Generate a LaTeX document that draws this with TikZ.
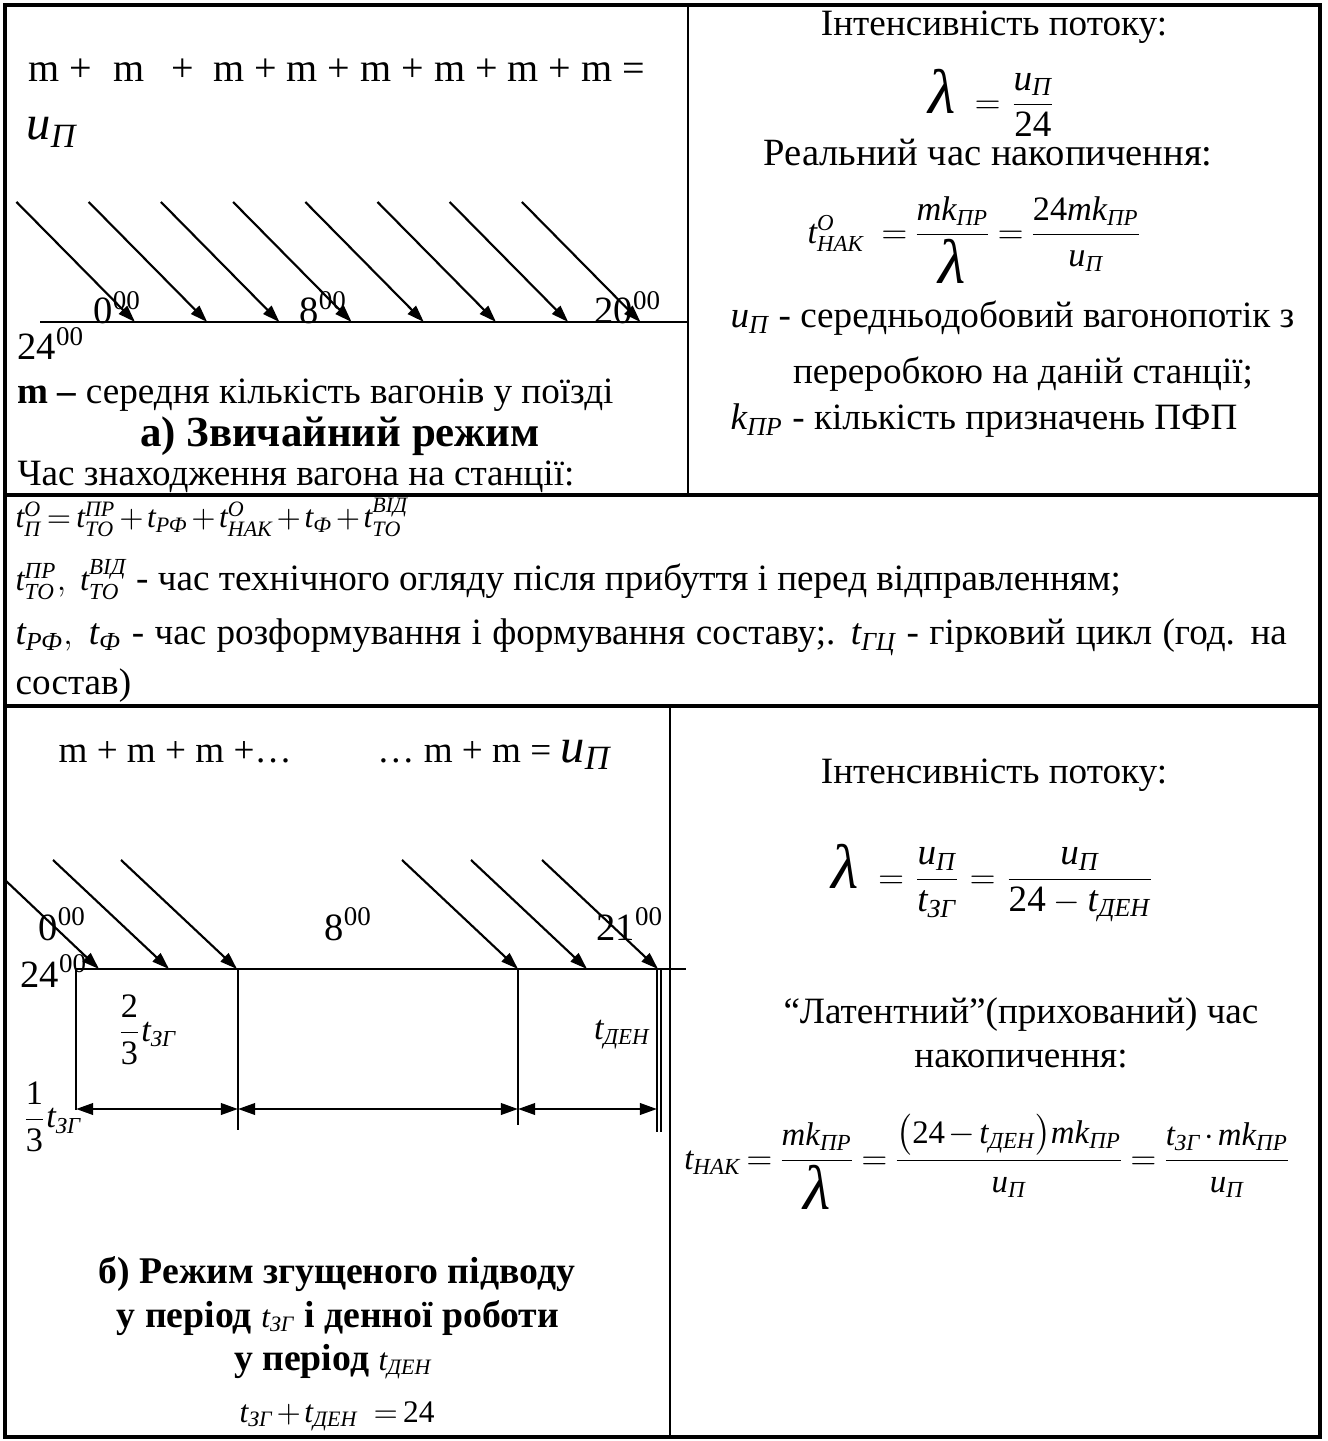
\documentclass[tikz,border=0pt]{standalone}
\usepackage{fontspec}
\usepackage{amsmath}
\setmainfont{Liberation Serif}
\usetikzlibrary{arrows.meta}
\tikzstyle{cellborder}=[line width=1.1pt]
\tikzstyle{divider}=[line width=0.6pt]
\tikzstyle{every node}=[inner sep=0pt, font=\fontsize{13}{15}\selectfont]
\tikzstyle{headtext}=[font=\fontsize{15}{17}\selectfont\bfseries]
\tikzstyle{subhead}=[font=\fontsize{13.2}{15}\selectfont\bfseries]
\tikzstyle{sumtext}=[font=\fontsize{14}{16}\selectfont]
\tikzstyle{timelabel}=[font=\fontsize{13.5}{15}\selectfont]
\tikzstyle{formula}=[font=\fontsize{12}{14}\selectfont,
  execute at begin node={\medmuskip=2mu\thickmuskip=3mu}]
\tikzstyle{train}=[line width=0.75pt, ->]
\tikzstyle{axisline}=[line width=0.8pt]
\tikzstyle{tick}=[line width=0.6pt]
\tikzstyle{dimline}=[line width=0.9pt, <->]
\newcommand{\ti}[1]{\textit{#1}}
\newcommand{\uP}{\ensuremath{\ti{u}_{\ti{П}}}}
\newcommand{\lam}{\mbox{\fontsize{22}{22}\selectfont\textit{λ}}}
\newcommand{\mkpr}{\ensuremath{\ti{mk}_{\ti{ПР}}}}
\newcommand{\tzg}{\ensuremath{\ti{t}_{\ti{ЗГ}}}}
\newcommand{\tden}{\ensuremath{\ti{t}_{\ti{ДЕН}}}}

\begin{document}
\begin{tikzpicture}[x=0.35pt, y=-0.35pt, >={Triangle[length=6pt,width=4pt]}]
\useasboundingbox (0,0) rectangle (1327,1441);
% table
\draw[cellborder] (5,5) rectangle (1320,1437);
\draw[cellborder] (5,495) -- (1320,495);
\draw[cellborder] (5,706) -- (1320,706);
\draw[divider] (688,5) -- (688,495);
\draw[divider] (670,706) -- (670,1437);

% a) usual mode
\node[sumtext, anchor=base west] (sum1) at (28,82) {m +\hspace{4pt} m \hspace{6pt}+\hspace{3pt} m + m + m + m + m + m =};
\node[anchor=base west] (uflow1) at (26,140) {\fontsize{17}{20}\selectfont\uP};
\foreach \k in {0,...,7}
  \draw[train] ({16.5+72.2*\k},202) -- ({135+72.2*\k},322);
\draw[axisline] (40,322) -- (688,322);
\node[timelabel, anchor=base west] (h0a) at (93,324) {0\textsuperscript{00}};
\node[timelabel, anchor=base west] (h8a) at (299,324) {8\textsuperscript{00}};
\node[timelabel, anchor=base west] (h20a) at (594,324) {20\textsuperscript{00}};
\node[timelabel, anchor=base west] (h24a) at (17,360) {24\textsuperscript{00}};
\node[anchor=base west] (mdef) at (17,404) {\textbf{m –} середня кількість вагонів у поїзді};
\node[headtext, anchor=base] (modea) at (340,447) {а) Звичайний режим};
\node[anchor=base west] (stay) at (17,486) {Час знаходження вагона на станції:};

\node[anchor=base] (int1) at (994,36) {Інтенсивність потоку:};
\node (lam1) at (992,103) {$\lam\;=\dfrac{\uP}{\textup{24}}$};
\node[anchor=base, font=\fontsize{13.5}{15}\selectfont] (real1) at (988,166) {Реальний час накопичення:};
\node[formula] (nak1) at (975,240) {$\ti{t}^{\ti{O}}_{\ti{НАК}}\;\;=\dfrac{\mkpr}{\lam}=\dfrac{\textup{24}\mkpr}{\uP}$};
\node[anchor=base west] (uflow2) at (730,328) {\uP\ - середньодобовий вагонопотік з};
\node[anchor=base] (pererob) at (1023,384) {переробкою на даній станції;};
\node[anchor=base west] (kpr) at (730,430) {$\ti{k}_{\ti{ПР}}$ - кількість призначень ПФП};

% station time
\node[formula, font=\fontsize{11}{13}\selectfont, anchor=base west] (tstay) at (15,528) {$\ti{t}^{\ti{O}}_{\ti{П}}=\ti{t}^{\ti{ПР}}_{\ti{ТО}}+\ti{t}_{\ti{РФ}}+\ti{t}^{\ti{O}}_{\ti{НАК}}+\ti{t}_{\ti{Ф}}+\ti{t}^{\ti{ВІД}}_{\ti{ТО}}$};
\node[anchor=base west] (tto) at (15,591) {{\fontsize{11.5}{13}\selectfont$\ti{t}^{\ti{ПР}}_{\ti{ТО}},\ \ti{t}^{\ti{ВІД}}_{\ti{ТО}}$}\ - час технічного огляду після прибуття і перед відправленням;};
\node[anchor=base west] (trf) at (15,645) {\makebox[445pt][s]{$\ti{t}_{\ti{РФ}},\ \ti{t}_{\ti{Ф}}$ - час розформування і формування составу;. $\ti{t}_{\ti{ГЦ}}$ - гірковий цикл (год. на}};
\node[anchor=base west] (sostav) at (15,694) {состав)};

% b) condensed arrival
\node[anchor=base west] (sum2) at (58,762) {m + m + m +…\hspace{30pt}… m + m = {\fontsize{17}{20}\selectfont\uP}};
\draw[train] (5,880) -- (99,969);
\foreach \sx in {53,121,402,471,542}
  \draw[train] (\sx,860) -- ({\sx+116},969);
\draw[axisline] (76,969) -- (686,969);
\node[timelabel, anchor=base west] (h0b) at (38,940) {0\textsuperscript{00}};
\node[timelabel, anchor=base west] (h8b) at (324,940) {8\textsuperscript{00}};
\node[timelabel, anchor=base west] (h21b) at (596,940) {21\textsuperscript{00}};
\node[timelabel, anchor=base west] (h24b) at (20,987) {24\textsuperscript{00}};
\coordinate (p0) at (76,969);
\coordinate (p1) at (238,969);
\coordinate (p2) at (518,969);
\coordinate (p3) at (657,969);
\draw[tick] (p0) -- ++(0,141);
\draw[tick] (p1) -- ++(0,161);
\draw[tick] (p2) -- ++(0,156);
\draw[tick] (p3) -- ++(0,163);
\draw[tick] (661,969) -- (661,1132);
\draw[dimline] (76,1109) -- (238,1109);
\draw[dimline] (238,1109) -- (518,1109);
\draw[dimline] (518,1109) -- (657,1109);
\node[formula] (twothird) at (147,1030) {$\dfrac{\textup{2}}{\textup{3}}\tzg$};
\node[formula] (tday) at (622,1035) {\tden};
\node[formula] (onethird) at (52,1117) {$\dfrac{\textup{1}}{\textup{3}}\tzg$};
\node[subhead, anchor=base] (modeb1) at (337,1283) {б) Режим згущеного підводу};
\node[subhead, anchor=base] (modeb2) at (338,1327) {у період {\fontsize{11}{13}\mdseries\tzg} і денної роботи};
\node[subhead, anchor=base] (modeb3) at (333,1370) {у період {\fontsize{11}{13}\mdseries\tden}};
\node[formula, font=\fontsize{11}{13}\selectfont, anchor=base] (tsum) at (337,1422) {$\tzg+\tden\;\;=\textup{24}$};

\node[anchor=base] (int2) at (994,783) {Інтенсивність потоку:};
\node (lam2) at (993,883) {$\lam\;=\dfrac{\uP}{\tzg}=\dfrac{\uP}{\textup{24}-\tden}$};
\node[anchor=base] (lat1) at (1021,1023) {“Латентний”(прихований) час};
\node[anchor=base] (lat2) at (1021,1067) {накопичення:};
\node[formula, font=\fontsize{11.5}{13}\selectfont] (nak2) at (988,1162) {$\ti{t}_{\ti{НАК}}=\dfrac{\mkpr}{\lam}=\dfrac{\bigl(\textup{24}-\tden\bigr)\mkpr}{\uP}=\dfrac{\tzg\cdot\mkpr}{\uP}$};
\end{tikzpicture}
\end{document}
